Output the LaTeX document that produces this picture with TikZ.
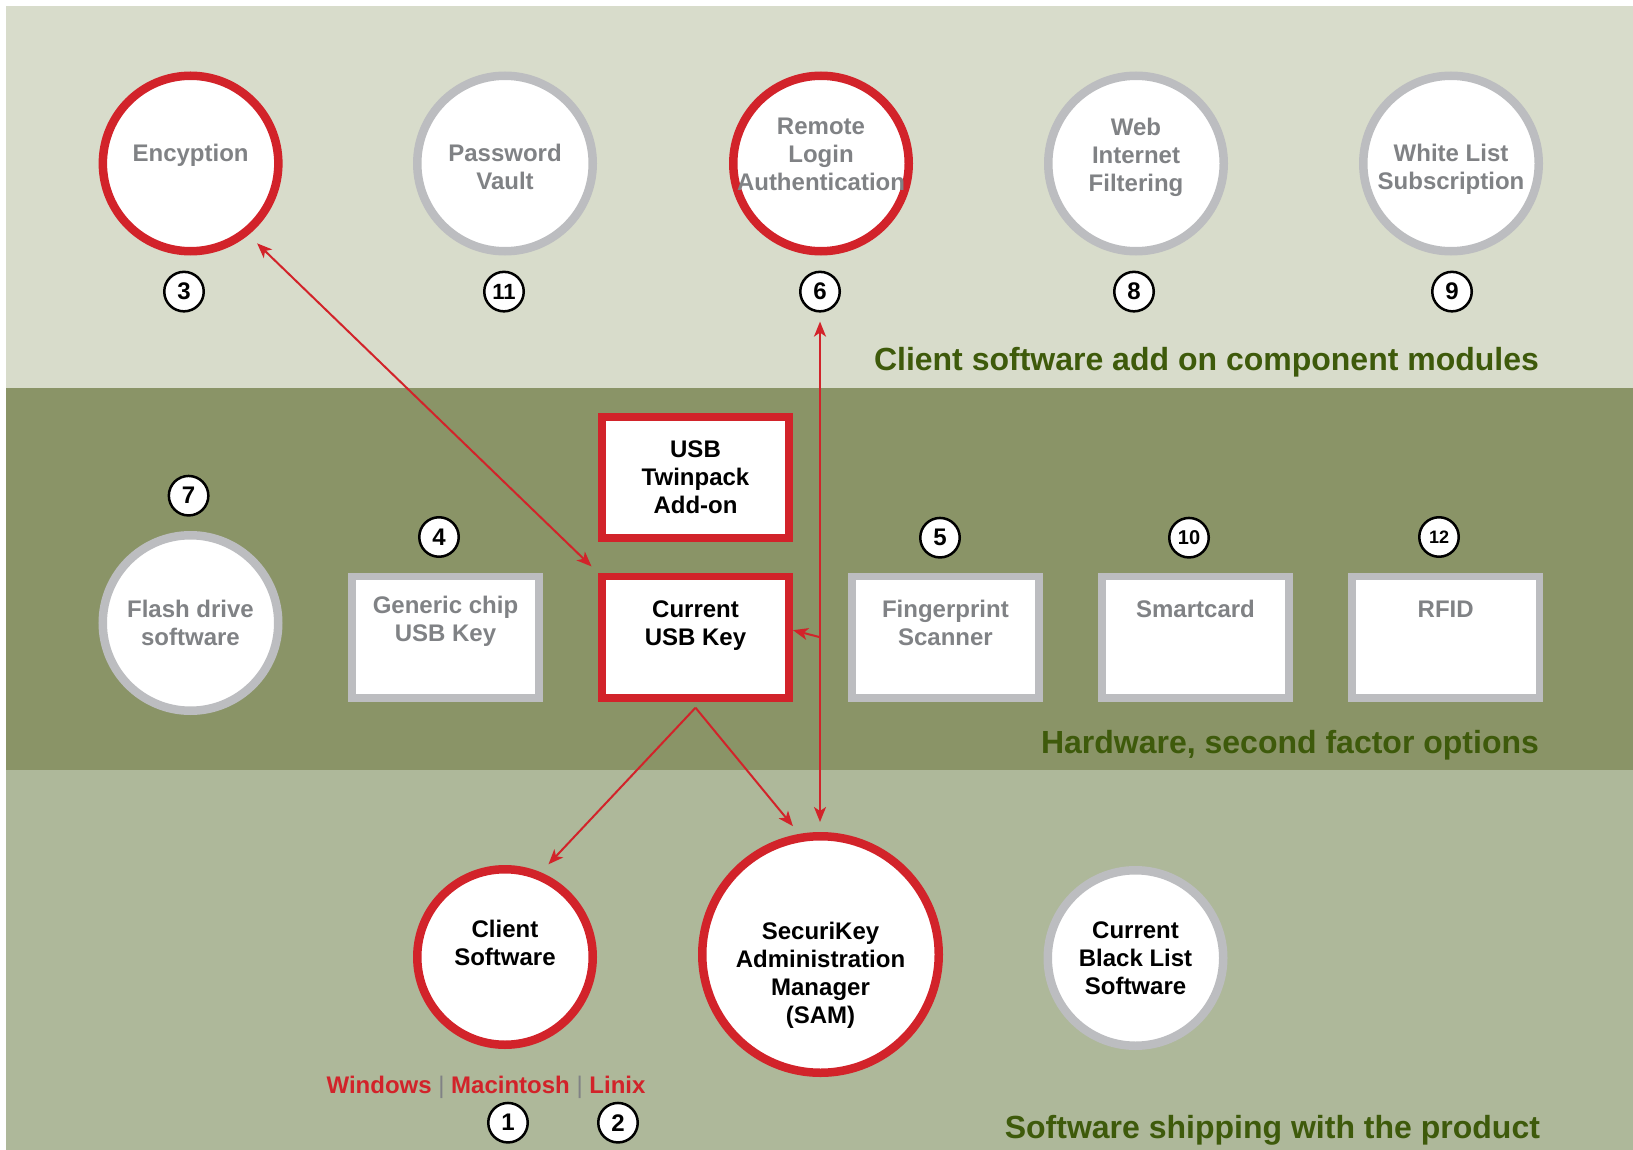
\documentclass[tikz,border=0pt]{standalone}
\usepackage{fontspec}
\setmainfont{Liberation Sans}
\usetikzlibrary{positioning,arrows.meta}
\definecolor{bandtop}{HTML}{D8DCCB}
\definecolor{bandmid}{HTML}{8A9467}
\definecolor{bandbot}{HTML}{AEB89A}
\definecolor{skred}{HTML}{D2232A}
\definecolor{skgrey}{HTML}{BCBDC0}
\definecolor{sktext}{HTML}{808285}
\definecolor{skgreen}{HTML}{3E5A0B}

\begin{document}
\begin{tikzpicture}[x=0.5pt,y=-0.5pt,font=\bfseries\fontsize{12}{14}\selectfont,
	ring/.style={circle,draw=#1,line width=4.25pt,fill=white,minimum size=87.75pt,inner sep=0pt},
	bigring/.style={ring=#1,minimum size=118.25pt},
	keybox/.style={rectangle,draw=#1,line width=3.85pt,fill=white,minimum width=93.65pt,minimum height=60.65pt,inner sep=0pt,align=center},
	num/.style={circle,draw=black,line width=1.25pt,fill=white,minimum size=19.75pt,inner sep=0pt},
	gtext/.style={align=center,text=sktext},
	btext/.style={align=center,text=black},
	bandtitle/.style={anchor=east,text=skgreen,font=\bfseries\fontsize{16}{19}\selectfont},
	arr/.style={draw=skred,line width=1pt,-{Stealth[length=7.5pt,width=6pt,inset=2pt]}},
	darr/.style={arr,{Stealth[length=7.5pt,width=6pt,inset=2pt]}-{Stealth[length=7.5pt,width=6pt,inset=2pt]}}]
	\useasboundingbox (0,0) rectangle (1633,1150);
	\fill[white] (0,0) rectangle (1633,1150);
	\fill[bandtop] (6,6) rectangle (1633,388);
	\fill[bandmid] (6,388) rectangle (1633,770);
	\fill[bandbot] (6,770) rectangle (1633,1150);

	\node[ring=skred,label={[gtext,yshift=-1.5pt]center:Encyption\\~}] (enc) at (190.6,163.5){};
	\node[ring=skgrey,label={[gtext,yshift=-1.5pt]center:Password\\Vault}] (vault) at (505,163.5){};
	\node[ring=skred,label={[gtext]center:Remote\\Login\\Authentication\\[-5pt]~}] (remote) at (821,163.5){};
	\node[ring=skgrey,label={[gtext]center:Web\\Internet\\Filtering\\[-5pt]~}] (web) at (1136,163.5){};
	\node[ring=skgrey,label={[gtext,yshift=-3pt]center:White List\\Subscription}] (white) at (1451,163.5){};
	\node[num] (b3) at (184,291.6){3};
	\node[num,font=\bfseries\fontsize{11}{12}\selectfont] (b11) at (504,291.6){11};
	\node[num] (b6) at (820,291.6){6};
	\node[num] (b8) at (1134,291.6){8};
	\node[num] (b9) at (1452,291.6){9};
	\node[bandtitle] (modules) at (1546,362){Client software add on component modules};

	\node[keybox=skred] (twin) at (695.5,477.5){USB\\Twinpack\\Add-on};
	\node[keybox=skred] (usbkey) at (695.5,637.2){Current\\USB Key\\~};
	\node[keybox=skgrey,text=sktext] (generic) at (445.5,637.2){Generic chip\\USB Key\\[4pt]~};
	\node[keybox=skgrey,text=sktext] (finger) at (945.4,637.2){Fingerprint\\Scanner\\~};
	\node[keybox=skgrey,text=sktext] (smart) at (1195.5,637.2){Smartcard\\~\\~};
	\node[keybox=skgrey,text=sktext] (rfid) at (1445.7,637.2){RFID\\~\\~};
	\node[ring=skgrey,label={[gtext]center:Flash drive\\software}] (flash) at (190.5,623){};
	\node[num] (b7) at (188.6,495.7){7};
	\node[num] (b4) at (439,537){4};
	\node[num] (b5) at (940,537.7){5};
	\node[num,font=\bfseries\fontsize{10}{12}\selectfont] (b10) at (1189,537.7){10};
	\node[num,font=\bfseries\fontsize{9}{11}\selectfont] (b12) at (1439,537){12};
	\node[bandtitle] (hardware) at (1546,745.6){Hardware, second factor options};

	\node[ring=skred,label={[btext]center:Client\\Software\\~}] (client) at (505,957){};
	\node[bigring=skred,label={[btext,yshift=-10.5pt]center:SecuriKey\\Administration\\Manager\\(SAM)}] (sam) at (820.5,954.5){};
	\node[ring=skgrey,label={[btext]center:Current\\Black List\\Software}] (black) at (1135.5,958){};
	\node[text=skred] (os) at (486,1087){Windows \textcolor{sktext}{\mdseries|} Macintosh \textcolor{sktext}{\mdseries|} Linix};
	\node[num] (b1) at (508,1122.7){1};
	\node[num] (b2) at (618,1122.7){2};
	\node[bandtitle] (shipping) at (1547,1130){Software shipping with the product};

	\coordinate (fork) at ([yshift=-3pt]usbkey.south);
	\draw[darr,shorten <=6pt,shorten >=4.5pt] (enc.-51) -- (usbkey.north west);
	\draw[darr,shorten <=4.5pt,shorten >=5pt] (b6.south) -- (b6.south |- sam.north);
	\draw[arr] (b6 |- usbkey.east) -- ([yshift=3.5pt]usbkey.east);
	\draw[arr,shorten >=5.5pt] (fork) -- (client.67);
	\draw[arr,shorten >=5pt] (fork) -- (sam.100);
\end{tikzpicture}
\end{document}
